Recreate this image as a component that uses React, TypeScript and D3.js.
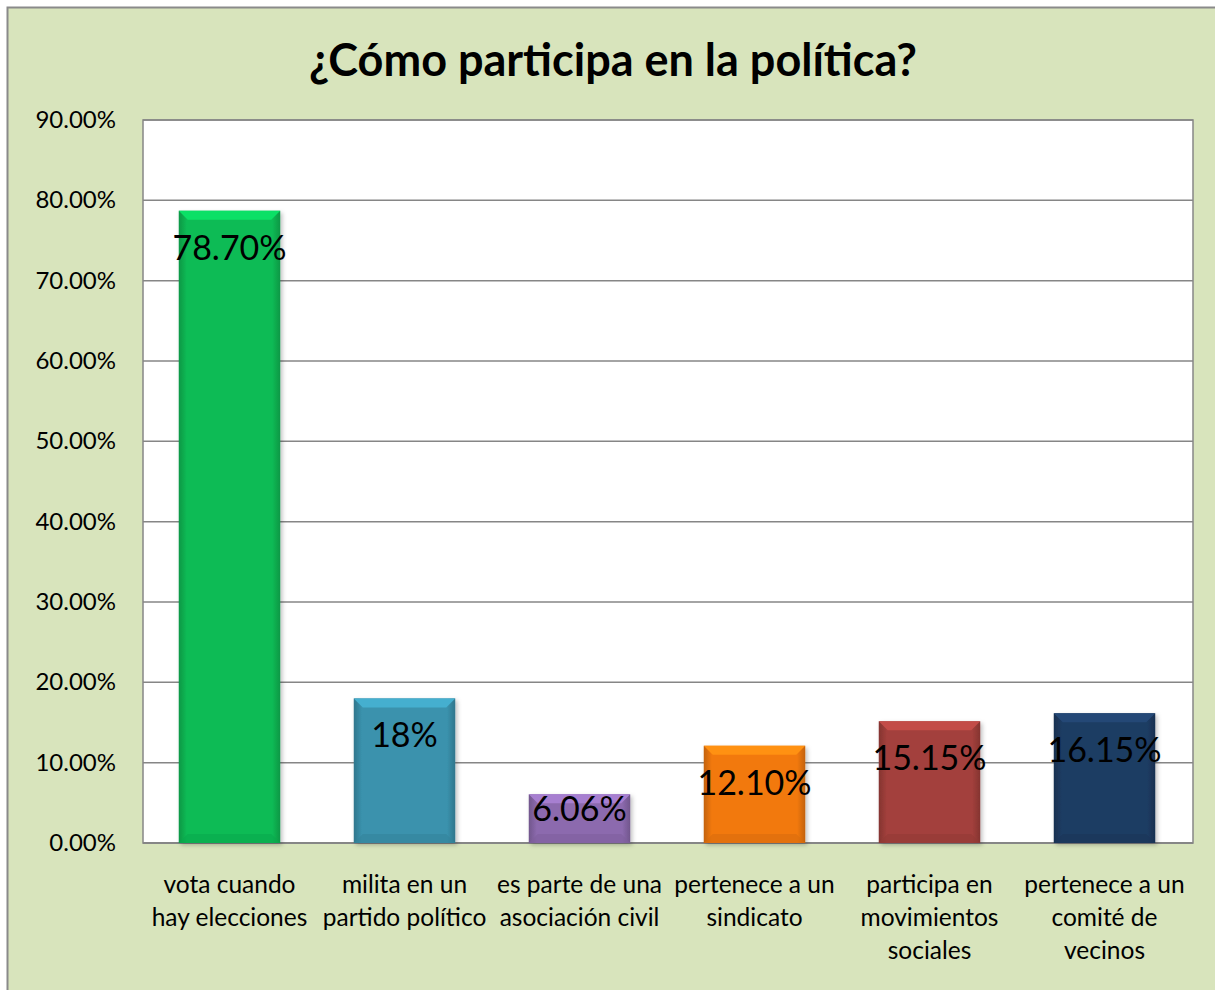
import React from "react";
import * as d3 from "d3";

const categories: string[][] = [
  ["vota cuando", "hay elecciones"],
  ["milita en un", "partido político"],
  ["es parte de una", "asociación civil"],
  ["pertenece a un", "sindicato"],
  ["participa en", "movimientos", "sociales"],
  ["pertenece a un", "comité de", "vecinos"],
];
const values = [78.7, 18, 6.06, 12.1, 15.15, 16.15];
const valueLabels = ["78.70%", "18%", "6.06%", "12.10%", "15.15%", "16.15%"];
const colors = ["#09BB55", "#3A92AD", "#8C6AAE", "#F2790F", "#A3403C", "#1E3C63"];
const yTicks = [0, 10, 20, 30, 40, 50, 60, 70, 80, 90];
const title = "¿Cómo participa en la política?";

const W = 1215, H = 990;
const plot = { left: 143, top: 120, right: 1193, bottom: 843 };
const font = "Lato, 'Open Sans', sans-serif";

export default function App() {
  const x = d3.scaleBand<number>().domain(values.map((_, i) => i)).range([plot.left - 1, plot.right - 1]).paddingInner(0.42).paddingOuter(0.21);
  const y = d3.scaleLinear().domain([0, 90]).range([plot.bottom, plot.top]);
  const bw = x.bandwidth();
  return (
    <svg width={W} height={H} style={{ position: "absolute", left: 0, top: 0 }}>
      <defs>
        {colors.map((c, i) => {
          const dk = d3.color(c)!.darker(0.6).formatHex();
          return (
            <linearGradient key={i} id={`g${i}`} x1="0" x2="1" y1="0" y2="0">
              <stop offset="0" stopColor={dk} />
              <stop offset="0.08" stopColor={c} />
              <stop offset="0.92" stopColor={c} />
              <stop offset="1" stopColor={dk} />
            </linearGradient>
          );
        })}
        <filter id="sh" x="-20%" y="-20%" width="140%" height="140%">
          <feDropShadow dx="2" dy="2" stdDeviation="2" floodColor="#000" floodOpacity="0.25" />
        </filter>
      </defs>
      <rect x={0} y={0} width={W} height={H} fill="#fff" />
      <rect x={7.5} y={7.5} width={W + 10} height={H + 10} fill="#D8E4BC" stroke="#8a8a8a" strokeWidth={2} />
      <text x={613} y={76} textAnchor="middle" fontFamily={font} fontWeight="bold" fontSize={45} fill="#000">{title}</text>
      <rect x={plot.left} y={plot.top} width={plot.right - plot.left} height={plot.bottom - plot.top} fill="#fff" stroke="#868686" strokeWidth={1.5} />
      {yTicks.map((t) => (
        <g key={t}>
          {t > 0 && <line x1={plot.left} x2={plot.right} y1={y(t)} y2={y(t)} stroke="#868686" strokeWidth={1.5} />}
          <text x={116} y={y(t) + 8} textAnchor="end" fontFamily={font} fontSize={24} fill="#000">{t.toFixed(2)}%</text>
        </g>
      ))}
      <line x1={plot.left} x2={plot.right} y1={plot.bottom} y2={plot.bottom} stroke="#868686" strokeWidth={2} />
      {values.map((v, i) => {
        const x0 = x(i)!;
        const top = y(v);
        const h = plot.bottom - top;
        const c = colors[i];
        const lt = d3.color(c)!.brighter(0.5).formatHex();
        const bev = 9;
        const ly = h > 80 ? top + 37 : top + 15;
        return (
          <g key={i}>
            <rect x={x0} y={top} width={bw} height={h} fill={`url(#g${i})`} filter="url(#sh)" />
            <polygon points={`${x0},${top} ${x0 + bw},${top} ${x0 + bw - bev},${top + bev} ${x0 + bev},${top + bev}`} fill={lt} />
            <polygon points={`${x0},${top + h} ${x0 + bw},${top + h} ${x0 + bw - bev},${top + h - bev} ${x0 + bev},${top + h - bev}`} fill={d3.color(c)!.darker(0.3).formatHex()} opacity={0.6} />
            <text x={x0 + bw / 2} y={ly + 12} textAnchor="middle" fontFamily={font} fontSize={34} fill="#000">{valueLabels[i]}</text>
          </g>
        );
      })}
      {categories.map((lines, i) => (
        <text key={i} x={x(i)! + bw / 2} y={893} textAnchor="middle" fontFamily={font} fontSize={24.5} fill="#000">
          {lines.map((l, j) => (
            <tspan key={j} x={x(i)! + bw / 2} dy={j === 0 ? 0 : 33}>{l}</tspan>
          ))}
        </text>
      ))}
    </svg>
  );
}
